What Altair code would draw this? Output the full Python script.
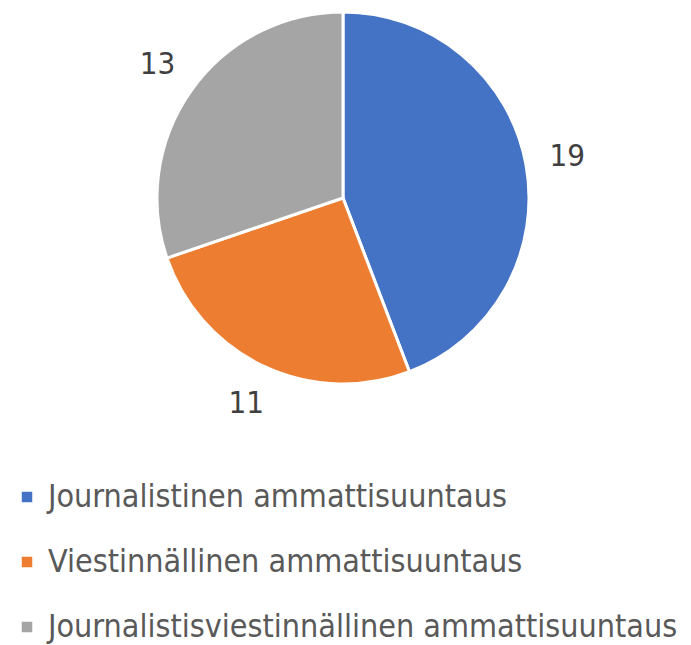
import altair as alt
import pandas as pd

categories = ["Journalistinen ammattisuuntaus", "Viestinnällinen ammattisuuntaus", "Journalistisviestinnällinen ammattisuuntaus"]
values = [19, 11, 13]
colors = ["#4472C4", "#ED7D31", "#A5A5A5"]

df = pd.DataFrame({"category": categories, "value": values, "order": [0, 1, 2]})

cx, cy = 343, 198

base = alt.Chart(df).encode(
    theta=alt.Theta("value:Q", stack=True),
    order=alt.Order("order:Q"),
)

pie = base.mark_arc(outerRadius=186, stroke="white", strokeWidth=3).encode(
    x=alt.value(cx), y=alt.value(cy),
    color=alt.Color("category:N", sort=categories,
                    scale=alt.Scale(domain=categories, range=colors),
                    legend=alt.Legend(title=None, orient="none", legendX=11, legendY=481,
                                      direction="vertical", symbolType="square",
                                      symbolSize=110, symbolStrokeWidth=0,
                                      labelFontSize=32, labelFont="DejaVu Sans Condensed",
                                      labelColor="#595959", rowPadding=33,
                                      labelOffset=5, labelLimit=700)),
)

labels = base.mark_text(radius=228, fontSize=31, font="DejaVu Sans Condensed", color="#404040").encode(
    x=alt.value(cx), y=alt.value(cy),
    text="value:Q",
)

chart = (pie + labels).properties(width=691, height=645, autosize="none", padding=0).configure_view(stroke=None)

chart.save("out.html", embed_options={"renderer": "svg", "actions": False})
